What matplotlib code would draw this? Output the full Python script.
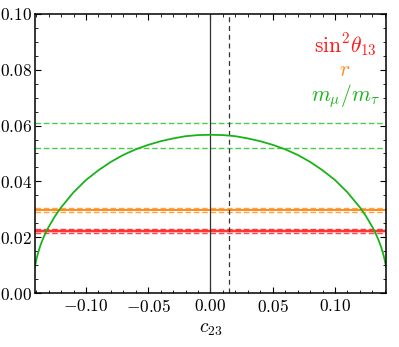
import numpy as np
import matplotlib
matplotlib.use("Agg")
import matplotlib.pyplot as plt
from matplotlib.ticker import MultipleLocator, FuncFormatter

plt.rcParams['mathtext.fontset'] = 'cm'
plt.rcParams['font.family'] = 'serif'
plt.rcParams['font.serif'] = ['cmr10', 'DejaVu Serif']
plt.rcParams['axes.formatter.use_mathtext'] = True

# green curve (m_mu/m_tau vs c23)
c23 = [-0.141, -0.140, -0.139, -0.137, -0.135, -0.132, -0.130, -0.125, -0.120, -0.110,
       -0.100, -0.090, -0.080, -0.070, -0.060, -0.050, -0.040, -0.030, -0.020, -0.010, 0.0,
       0.010, 0.020, 0.030, 0.040, 0.050, 0.060, 0.070, 0.080, 0.090, 0.100, 0.110, 0.120,
       0.125, 0.130, 0.132, 0.135, 0.137, 0.139, 0.140, 0.141]
ratio = [0.0095, 0.0118, 0.0136, 0.0166, 0.0190, 0.0220, 0.0237, 0.0275, 0.0307, 0.0361,
         0.0405, 0.0440, 0.0470, 0.0495, 0.0515, 0.0531, 0.0544, 0.0554, 0.0562, 0.0566, 0.0567,
         0.0566, 0.0562, 0.0554, 0.0544, 0.0531, 0.0515, 0.0495, 0.0470, 0.0440, 0.0405, 0.0361, 0.0307,
         0.0275, 0.0237, 0.0220, 0.0190, 0.0166, 0.0136, 0.0118, 0.0095]

# horizontal bands: (central, lower, upper)
sin2 = (0.0222, 0.0216, 0.0228)
r_band = (0.0297, 0.0289, 0.0306)
mm_band = (0.052, 0.061)

c23_zero = 0.0
c23_fit = 0.0145

red = '#ff1a1a'
orange = '#ff8c1a'
green = '#19b319'

fig = plt.figure(figsize=(3.99, 3.47), dpi=100)
ax = fig.add_axes([0.0877, 0.1556, 0.8797, 0.8041])

# red band
ax.axhspan(sin2[1], sin2[2], color=red, alpha=0.25, lw=0)
ax.axhline(sin2[1], color=red, ls=(0, (4, 2)), lw=1.0, alpha=0.8)
ax.axhline(sin2[2], color=red, ls=(0, (4, 2)), lw=1.0, alpha=0.8)
ax.axhline(sin2[0], color=red, lw=1.2)

# orange band
ax.axhline(r_band[1], color=orange, ls=(0, (4, 2)), lw=1.0, alpha=0.8)
ax.axhline(r_band[2], color=orange, ls=(0, (4, 2)), lw=1.0, alpha=0.8)
ax.axhline(r_band[0], color=orange, lw=1.4)

# green dashed
for v in mm_band:
    ax.axhline(v, color='#4ccc4c', ls=(0, (4, 2)), lw=1.0)

ax.axvline(c23_zero, color='#333333', lw=0.9)
ax.axvline(c23_fit, color='#333333', ls=(0, (4, 3)), lw=0.9)

ax.plot(c23, ratio, color=green, lw=1.3)

ax.set_xlim(-0.141, 0.141)
ax.set_ylim(0, 0.10)

ax.xaxis.set_major_locator(MultipleLocator(0.05))
ax.xaxis.set_minor_locator(MultipleLocator(0.01))
ax.yaxis.set_major_locator(MultipleLocator(0.02))
ax.yaxis.set_minor_locator(MultipleLocator(0.005))
ax.xaxis.set_major_formatter(FuncFormatter(lambda v, p: f"${v:.2f}$" if abs(v) > 1e-9 else "$0.00$"))
ax.yaxis.set_major_formatter(FuncFormatter(lambda v, p: f"${v:.2f}$"))
ax.tick_params(which='both', direction='in', top=True, right=True, labelsize=12.5)
ax.tick_params(axis='y', pad=2)
ax.tick_params(which='major', length=4, width=0.8)
ax.tick_params(which='minor', length=2, width=0.6)
for s in ax.spines.values():
    s.set_linewidth(1.1)

ax.set_xlabel(r"$c_{23}$", fontsize=14, labelpad=4)

ax.text(0.883, 0.889, r"$\sin^2\!\theta_{13}$", color=red, fontsize=15.5,
        transform=ax.transAxes, ha='center', va='center')
ax.text(0.883, 0.80, r"$r$", color=orange, fontsize=15.5,
        transform=ax.transAxes, ha='center', va='center')
ax.text(0.883, 0.705, r"$m_\mu/m_\tau$", color=green, fontsize=15.5,
        transform=ax.transAxes, ha='center', va='center')

fig.savefig("out.png", dpi=100)
